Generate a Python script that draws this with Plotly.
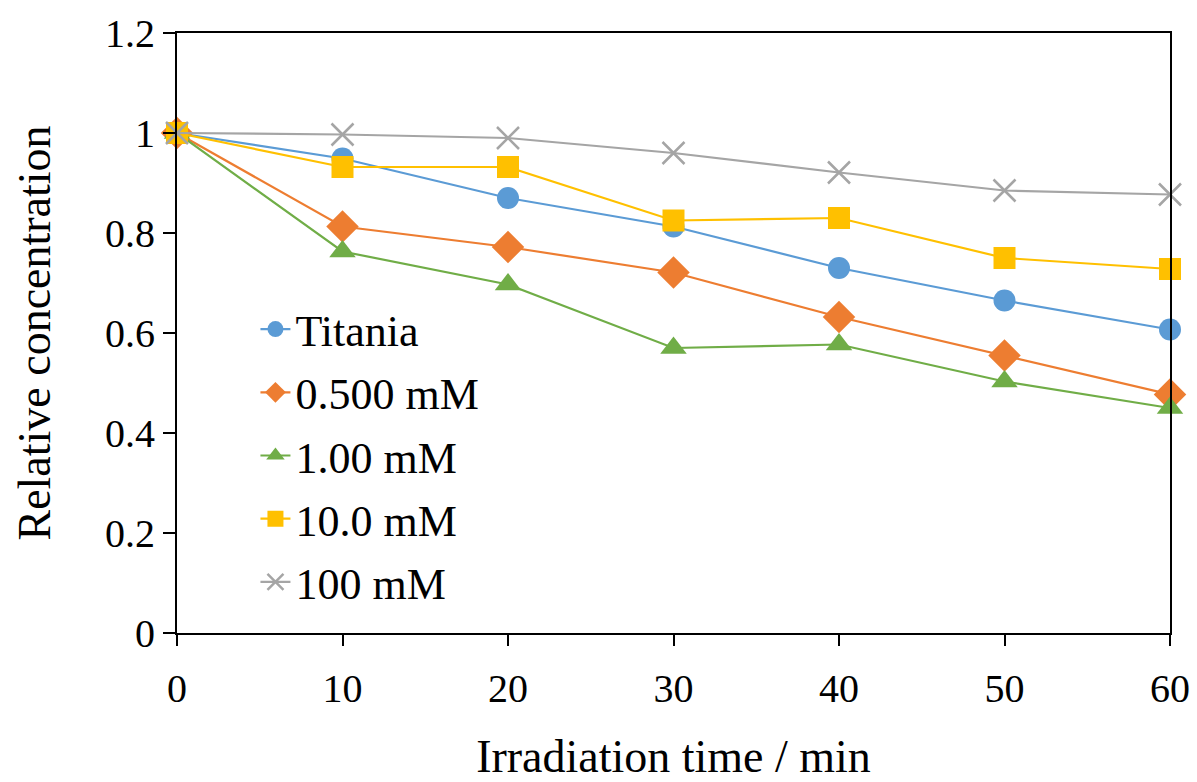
import plotly.graph_objects as go

time_min = [0, 10, 20, 30, 40, 50, 60]
titania = [1.0, 0.949, 0.870, 0.813, 0.730, 0.665, 0.607]
mm_0500 = [1.0, 0.813, 0.772, 0.721, 0.632, 0.555, 0.477]
mm_100 = [1.0, 0.763, 0.697, 0.570, 0.577, 0.503, 0.450]
mm_10 = [1.0, 0.932, 0.932, 0.825, 0.830, 0.750, 0.728]
mm_1000 = [1.0, 0.997, 0.990, 0.960, 0.921, 0.885, 0.877]

series_names = ["Titania", "0.500 mM", "1.00 mM", "10.0 mM", "100 mM"]
series_values = [titania, mm_0500, mm_100, mm_10, mm_1000]
colors = ["#5B9BD5", "#ED7D31", "#70AD47", "#FFC000", "#A5A5A5"]
symbols = ["circle", "diamond", "triangle-up", "square", "x-thin"]
sizes = [22, 25, 23, 22, 22]

y_ticks = [0, 0.2, 0.4, 0.6, 0.8, 1.0, 1.2]
y_tick_text = ["0", "0.2", "0.4", "0.6", "0.8", "1", "1.2"]
x_ticks = [0, 10, 20, 30, 40, 50, 60]

FONT = "Liberation Serif, Times New Roman, serif"

fig = go.Figure()
for i, (name, vals) in enumerate(zip(series_names, series_values)):
    marker = dict(symbol=symbols[i], size=sizes[i], color=colors[i])
    if symbols[i] == "x-thin":
        marker["line"] = dict(color=colors[i], width=2.5)
    else:
        marker["line"] = dict(width=0)
    fig.add_trace(go.Scatter(
        x=time_min, y=vals, name=name, mode="lines+markers",
        line=dict(color=colors[i], width=2.2),
        marker=marker, cliponaxis=False, legendgroup=name,
    ))

fig.update_layout(
    width=1197, height=782,
    margin=dict(l=177, r=27, t=33, b=149),
    paper_bgcolor="white", plot_bgcolor="white",
    font=dict(family=FONT, color="black", size=40),
    showlegend=True,
    legend=dict(
        x=0.079, y=0.565, xanchor="left", yanchor="top",
        bgcolor="rgba(0,0,0,0)", font=dict(size=44, family=FONT),
        tracegroupgap=3, itemwidth=30,
    ),
    xaxis=dict(
        range=[0, 60], tickvals=x_ticks, ticks="outside", ticklen=11,
        tickwidth=2, tickcolor="black", showline=True, linecolor="black",
        linewidth=2, mirror=True, showgrid=False, zeroline=False,
        tickfont=dict(size=40, family=FONT), ticklabelstandoff=8,
        automargin=False,
        title=dict(text="Irradiation time / min", font=dict(size=46, family=FONT), standoff=38),
    ),
    yaxis=dict(
        range=[0, 1.2], tickvals=y_ticks, ticktext=y_tick_text, ticks="outside",
        ticklen=12, tickwidth=2, tickcolor="black", showline=True,
        linecolor="black", linewidth=2, mirror=True, showgrid=False,
        zeroline=False, tickfont=dict(size=40, family=FONT), automargin=False,
        title=dict(text="Relative concentration", font=dict(size=46, family=FONT), standoff=40),
    ),
)

fig.write_html("out.html")
